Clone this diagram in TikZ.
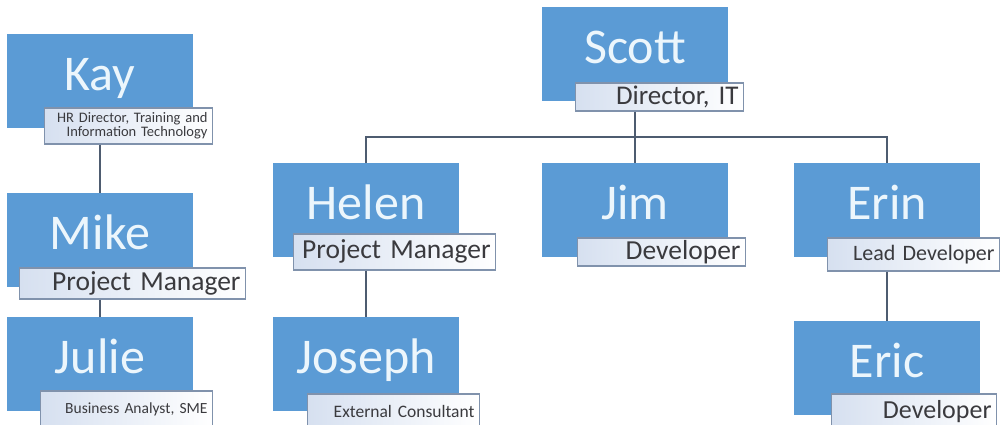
\documentclass[tikz,border=0pt]{standalone}
\usepackage{fontspec}
\setmainfont{Carlito}
\usepackage{tikz}
\usetikzlibrary{positioning}
\definecolor{boxblue}{RGB}{91,155,213}
\definecolor{namecol}{RGB}{236,246,252}
\definecolor{rolefill}{RGB}{214,224,240}
\definecolor{roleline}{RGB}{128,146,172}
\definecolor{roletext}{RGB}{58,58,62}
\definecolor{linkcol}{RGB}{78,92,112}

\begin{document}
\begin{tikzpicture}[x=1pt,y=-1pt]

\tikzset{namebox/.style={fill=boxblue,minimum width=186pt,minimum height=94pt,inner sep=0pt,text=namecol,font=\fontsize{50}{50}\selectfont,text height=36pt,text depth=18pt},
rolebox/.style={left color=rolefill,right color=white,draw=roleline,line width=1.3pt,inner xsep=5pt,inner ysep=0pt,minimum height=30pt,align=right,text=roletext,anchor=north east,font=\fontsize{27.5}{30}\selectfont},
link/.style={draw=linkcol,line width=1.6pt}}

\useasboundingbox (0,0) rectangle (1001,424);

% Left column
\node[namebox] (kay) at (100,81) {Kay};
\node[rolebox,text width=158pt,minimum height=36pt,font=\fontsize{14.5}{14.5}\selectfont] (kayrole) at ([xshift=20pt,yshift=21pt]kay.south east) {HR Director, Training and\\Information Technology};
\node[namebox] (mike) at (100,240) {Mike};
\node[rolebox,text width=216pt,minimum height=31pt] (mikerole) at ([xshift=53pt,yshift=20pt]mike.south east) {Project Manager};
\node[namebox] (julie) at (100,364) {Julie};
\node[rolebox,text width=162pt,minimum height=37pt,font=\fontsize{15.5}{17}\selectfont] (julierole) at ([xshift=20pt,yshift=21pt]julie.south east) {Business Analyst, SME};

% Top of the right tree
\node[namebox] (scott) at (635,54) {Scott};
\node[rolebox,text width=158pt,minimum height=28pt,font=\fontsize{27}{30}\selectfont] (scottrole) at ([xshift=16pt,yshift=19pt]scott.south east) {Director, IT};

% Middle row
\node[namebox] (helen) at (366,210) {Helen};
\node[rolebox,text width=192pt,minimum height=36pt] (helenrole) at ([xshift=37pt,yshift=24pt]helen.south east) {Project Manager};
\node[namebox] (jim) at (635,210) {Jim};
\node[rolebox,text width=158pt,minimum height=28pt,font=\fontsize{27.5}{30}\selectfont] (jimrole) at ([xshift=18pt,yshift=20pt]jim.south east) {Developer};
\node[namebox] (erin) at (887,210) {Erin};
\node[rolebox,text width=162pt,minimum height=33pt,font=\fontsize{22}{24}\selectfont] (erinrole) at ([xshift=20pt,yshift=20pt]erin.south east) {Lead Developer};

% Bottom row
\node[namebox] (joseph) at (366,364) {Joseph};
\node[rolebox,text width=162pt,minimum height=36pt,font=\fontsize{17.5}{19}\selectfont] (josephrole) at ([xshift=21pt,yshift=18pt]joseph.south east) {External Consultant};
\node[namebox] (eric) at (887,368) {Eric};
\node[rolebox,text width=155pt,minimum height=36pt,font=\fontsize{26}{28}\selectfont] (ericrole) at ([xshift=17pt,yshift=22pt]eric.south east) {Developer};

% Edges
\coordinate (bus) at (635,137);
\draw[link] (kay.south |- kayrole.south) -- (mike.north);
\draw[link] (mike.south |- mikerole.south) -- (julie.north);
\draw[link] (scott.south |- scottrole.south) -- (bus);
\draw[link] (helen.north) -- (helen.north |- bus) -- (erin.north |- bus) -- (erin.north);
\draw[link] (bus) -- (jim.north);
\draw[link] (helen.south |- helenrole.south) -- (joseph.north);
\draw[link] (erin.south |- erinrole.south) -- (eric.north);

\end{tikzpicture}
\end{document}
